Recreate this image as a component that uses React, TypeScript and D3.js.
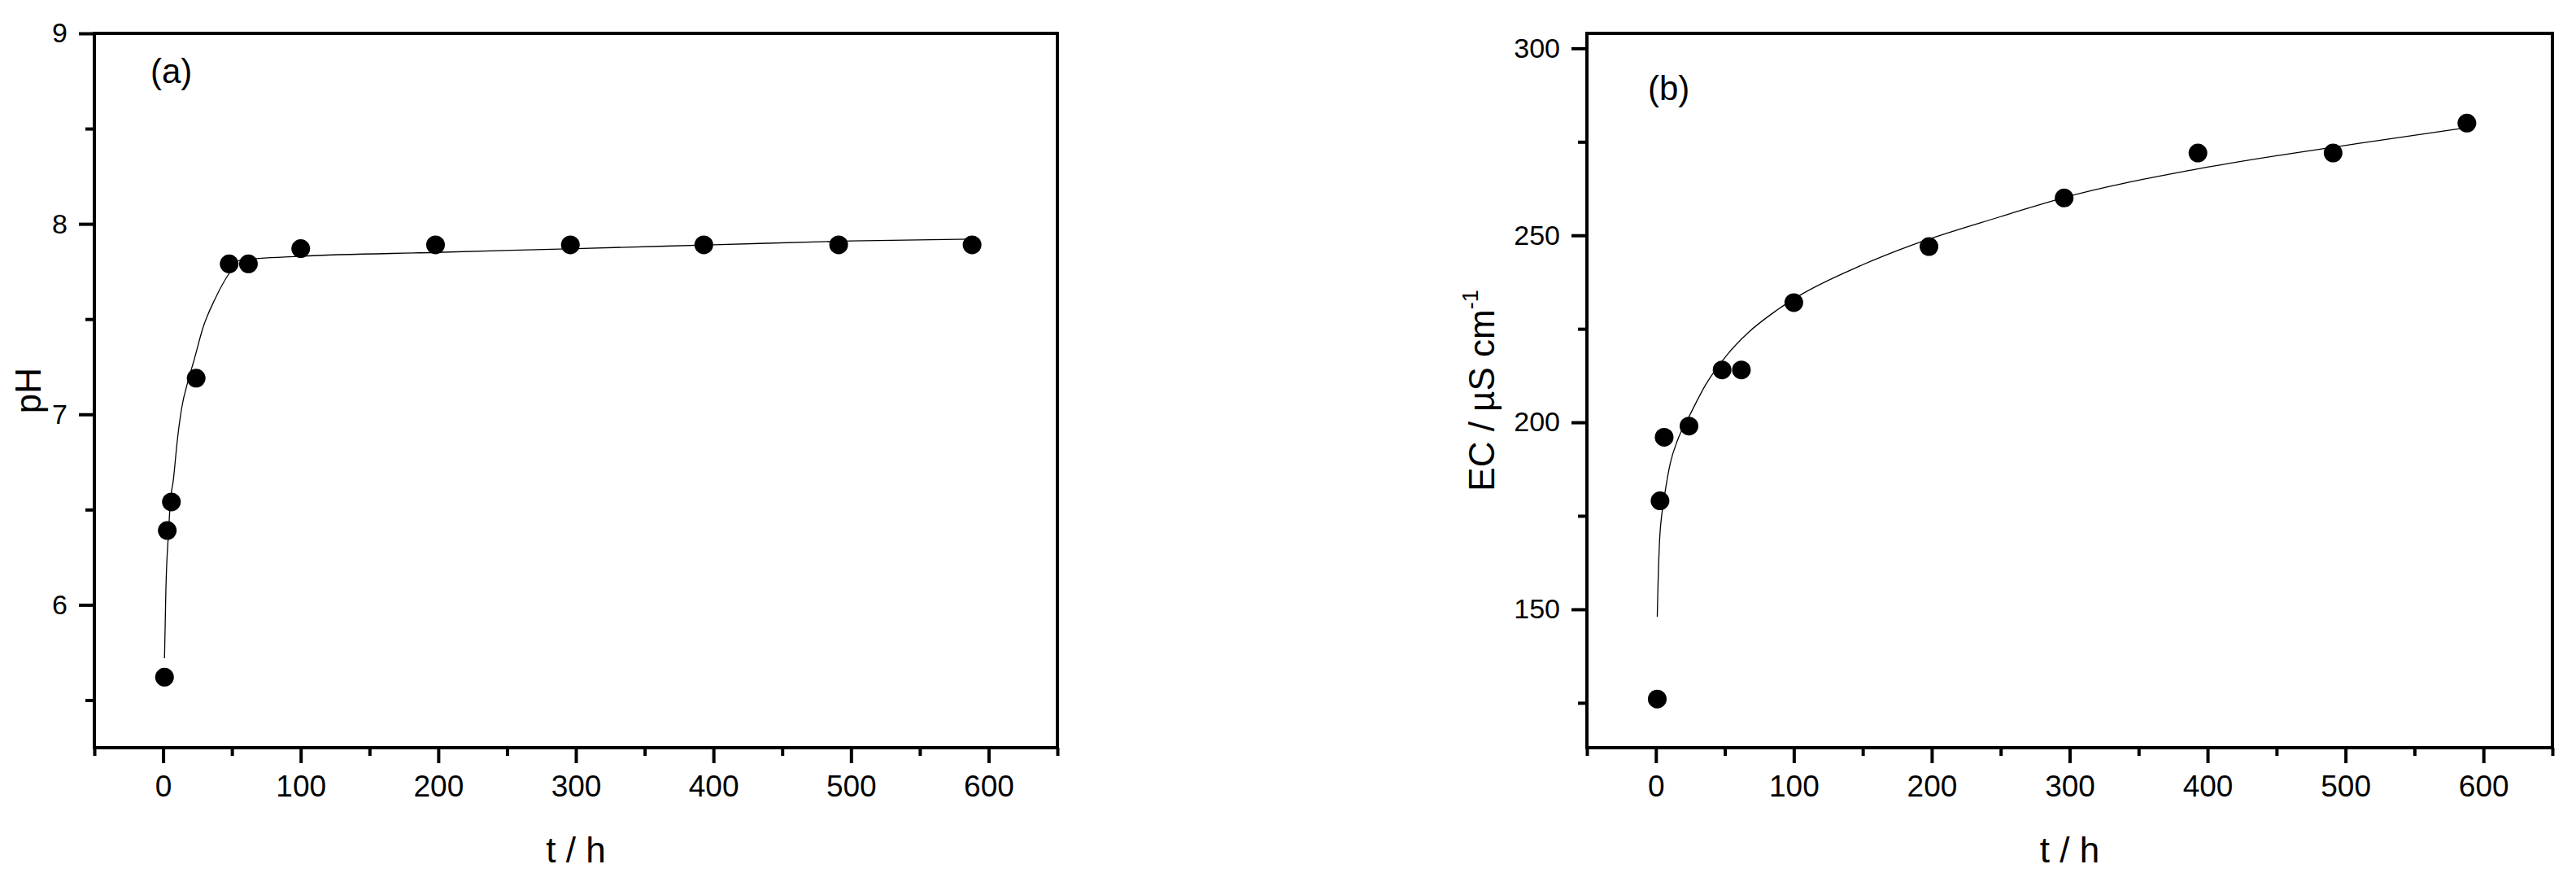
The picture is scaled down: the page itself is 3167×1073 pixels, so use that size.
import { useRef, useEffect } from "react";
import * as d3 from "d3";

// sampling times (h), shared by both panels
const hours = [1, 3, 6, 24, 48, 62, 100, 198, 296, 393, 491, 588];
const phValues = [5.62, 6.39, 6.54, 7.19, 7.79, 7.79, 7.87, 7.89, 7.89, 7.89, 7.89, 7.89];
const ecValues = [126, 179, 196, 199, 214, 214, 232, 247, 260, 272, 272, 280];

// fitted curves
const phFitHours = [1, 2, 4, 5, 7.5, 10.4, 13.4, 18.3, 22.3, 29.2, 38, 48, 56, 100, 198, 300, 400, 500, 588];
const phFitValues = [5.72, 6.08, 6.39, 6.52, 6.66, 6.87, 7.03, 7.18, 7.28, 7.46, 7.61, 7.74, 7.81, 7.83, 7.85, 7.87, 7.89, 7.91, 7.92];
const ecFitHours = [1, 1.5, 2.5, 4.5, 6.5, 10.4, 16, 24, 36, 51.5, 67, 87, 106, 146, 185, 250, 295, 392, 508, 588];
const ecFitValues = [148, 156, 167, 176, 181, 189, 195.5, 201.5, 210, 218, 224, 229.8, 234.3, 241.5, 247.3, 255, 260, 267.7, 274.5, 278.8];

const xTicks = [0, 100, 200, 300, 400, 500, 600];
const xMinorTicks = [-50, 50, 150, 250, 350, 450, 550, 650];
const phTicks = [6, 7, 8, 9];
const phMinorTicks = [5.5, 6.5, 7.5, 8.5];
const ecTicks = [150, 200, 250, 300];
const ecMinorTicks = [125, 175, 225, 275];

const FONT = "'Liberation Sans', Arial, Helvetica, sans-serif";

const drawPanel = (svg, p) => {
  const x = d3.scaleLinear().domain([-50, 650]).range([p.left, p.right]);
  const y = d3.scaleLinear().domain(p.yDomain).range([p.bottom, p.top]);
  const g = svg.append("g");

  const style = (sel, size) => {
    sel.select(".domain").remove();
    sel.attr("font-family", FONT).attr("font-size", size);
    sel.selectAll("line").attr("stroke", "#000").attr("stroke-width", 4);
    sel.selectAll("text").attr("fill", "#000");
  };

  // x axis ticks
  g.append("g")
    .attr("transform", `translate(0,${p.bottom})`)
    .call(d3.axisBottom(x).tickValues(xMinorTicks).tickSize(10).tickSizeOuter(0).tickFormat(() => ""))
    .call((s) => style(s, 37));
  g.append("g")
    .attr("transform", `translate(0,${p.bottom})`)
    .call(d3.axisBottom(x).tickValues(xTicks).tickSize(19).tickSizeOuter(0).tickPadding(15).tickFormat(d3.format("d")))
    .call((s) => style(s, 37));

  // y axis ticks
  g.append("g")
    .attr("transform", `translate(${p.left},0)`)
    .call(d3.axisLeft(y).tickValues(p.yMinor).tickSize(11).tickSizeOuter(0).tickFormat(() => ""))
    .call((s) => style(s, 34));
  g.append("g")
    .attr("transform", `translate(${p.left},0)`)
    .call(d3.axisLeft(y).tickValues(p.yMajor).tickSize(19).tickSizeOuter(0).tickPadding(14).tickFormat(d3.format("d")))
    .call((s) => style(s, 34));

  // frame
  g.append("rect")
    .attr("x", p.left)
    .attr("y", p.top)
    .attr("width", p.right - p.left)
    .attr("height", p.bottom - p.top)
    .attr("fill", "none")
    .attr("stroke", "#000")
    .attr("stroke-width", 4);

  // fitted curve
  const line = d3
    .line()
    .x((d) => x(d[0]))
    .y((d) => y(d[1]))
    .curve(d3.curveMonotoneX);
  g.append("path")
    .datum(d3.zip(p.fitX, p.fitY))
    .attr("d", line)
    .attr("fill", "none")
    .attr("stroke", "#000")
    .attr("stroke-width", 1.3);

  // measured points
  g.selectAll("circle.pt")
    .data(d3.zip(hours, p.values))
    .enter()
    .append("circle")
    .attr("class", "pt")
    .attr("cx", (d) => x(d[0]))
    .attr("cy", (d) => y(d[1]))
    .attr("r", 11.5)
    .attr("fill", "#000");

  // panel letter
  g.append("text")
    .attr("x", p.tagX)
    .attr("y", p.tagY)
    .attr("font-family", FONT)
    .attr("font-size", 42)
    .text(p.tag);

  // x title
  g.append("text")
    .attr("x", (p.left + p.right) / 2)
    .attr("y", 1060)
    .attr("text-anchor", "middle")
    .attr("font-family", FONT)
    .attr("font-size", 44)
    .text("t / h");

  // y title
  const yt = g
    .append("text")
    .attr("transform", `translate(${p.yTitleX},${(p.top + p.bottom) / 2}) rotate(-90)`)
    .attr("text-anchor", "middle")
    .attr("font-family", FONT)
    .attr("font-size", 44);
  yt.append("tspan").text(p.yTitle);
  if (p.yTitleSup) {
    yt.append("tspan").attr("font-size", 27).attr("dy", -20).text(p.yTitleSup);
  }
};

const App = () => {
  const ref = useRef(null);

  useEffect(() => {
    const svg = d3.select(ref.current);
    svg.selectAll("*").remove();
    svg.append("rect").attr("width", 3167).attr("height", 1073).attr("fill", "#fff");

    drawPanel(svg, {
      left: 116,
      right: 1300,
      top: 41,
      bottom: 919,
      yDomain: [5.25, 9],
      yMajor: phTicks,
      yMinor: phMinorTicks,
      values: phValues,
      fitX: phFitHours,
      fitY: phFitValues,
      tag: "(a)",
      tagX: 185,
      tagY: 102,
      yTitle: "pH",
      yTitleX: 50,
    });

    drawPanel(svg, {
      left: 1951,
      right: 3138,
      top: 41,
      bottom: 919,
      yDomain: [113, 304],
      yMajor: ecTicks,
      yMinor: ecMinorTicks,
      values: ecValues,
      fitX: ecFitHours,
      fitY: ecFitValues,
      tag: "(b)",
      tagX: 2026,
      tagY: 123,
      yTitle: "EC / \u00b5S cm",
      yTitleSup: "-1",
      yTitleX: 1837,
    });
  }, []);

  return (
    <svg
      ref={ref}
      width={3167}
      height={1073}
      style={{ position: "absolute", left: 0, top: 0, display: "block" }}
    />
  );
};

export default App;
